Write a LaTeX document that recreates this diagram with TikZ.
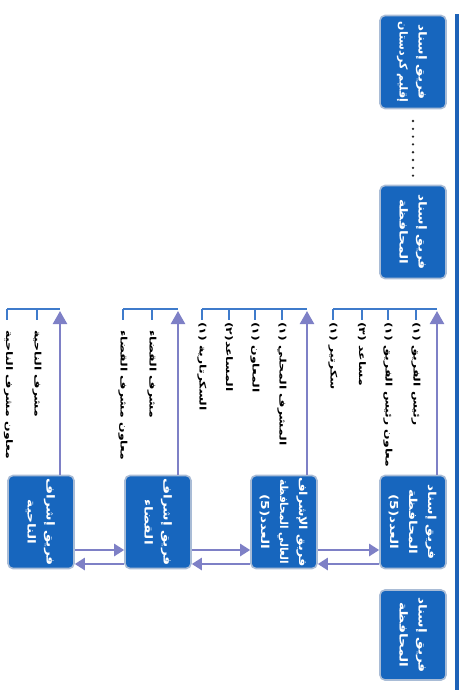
\documentclass[tikz,border=0pt]{standalone}
\usepackage{fontspec}
\usepackage{graphicx}
\newfontfamily\itemfont[Script=Arabic,FakeStretch=1.38]{DejaVu Sans}
\newfontfamily\boxfont[Script=Arabic,FakeStretch=1.25]{DejaVu Sans}
\TeXXeTstate=1
\usetikzlibrary{arrows.meta,calc}
\definecolor{boxblue}{HTML}{1766BE}
\definecolor{boxedge}{HTML}{A9BCD6}
\definecolor{arrowc}{HTML}{7E80C6}
\definecolor{barc}{HTML}{3F7BCB}
\definecolor{railc}{HTML}{1E63B8}
\newcommand\rtlines[1]{\rotatebox{-90}{\begin{tabular}{@{}c@{}}#1\end{tabular}}}
\newcommand\squeeze[2]{\scalebox{#1}[1]{#2}}
\begin{document}
\begin{tikzpicture}[x=1pt,y=-1pt,
  teambox/.style={draw=boxedge, line width=1.6pt, fill=boxblue, rounded corners=5pt,
    minimum width=66pt, minimum height=93pt, inner sep=0pt, text=white,
    font=\boxfont\bfseries\fontsize{11}{19}\selectfont},
  item/.style={font=\itemfont\bfseries\fontsize{9}{10}\selectfont, rotate=-90,
    anchor=west, inner sep=0pt, text=black},
  arr/.style={draw=arrowc, line width=2.4pt, -{Triangle[length=10pt,width=12pt]}},
  uparr/.style={draw=arrowc, line width=2.4pt, -{Triangle[length=13pt,width=14pt]}},
  barline/.style={draw=barc, line width=2pt},
  rail/.style={draw=railc, line width=4pt},
  dotsline/.style={draw=black!85, line width=2.6pt, line cap=round, dash pattern=on 0pt off 7.8pt}
]
\useasboundingbox (0,0) rectangle (461,697);

% rail
\coordinate (railtop) at (457,14);
\coordinate (railbot) at (457,690);
\draw[rail] (railtop) -- (railbot);

% right column boxes
\node[teambox] (A) at (413,62) {\rtlines{\beginR فريق إسناد\endR\\ \squeeze{0.8}{\beginR إقليم كردستان\endR}}};
\node[teambox] (B) at (413,232) {\rtlines{\beginR فريق إسناد\endR\\ \beginR المحافظة\endR}};
\coordinate (dtop) at (413,121);
\coordinate (dbot) at (413,177);
\draw[dotsline] (dtop) -- (dbot);
\node[teambox] (C) at (413,522) {\rtlines{\beginR فريق إسناد\endR\\ \beginR المحافظة\endR\\ \beginR العدد(5)\endR}};
\node[teambox, minimum height=90pt] (D) at (413,635) {\rtlines{\beginR فريق إسناد\endR\\ \beginR المحافظة\endR}};

% bottom row boxes
\node[teambox] (E) at (284,522) {\rtlines{\squeeze{0.92}{\beginR فريق الإشراف\endR}\\ \squeeze{0.76}{\beginR العالي المحافظة\endR}\\ \beginR العدد(5)\endR}};
\node[teambox] (F) at (158,522) {\rtlines{\beginR فريق إشراف\endR\\ \beginR القضاء\endR}};
\node[teambox] (G) at (41,522) {\rtlines{\beginR فريق إشراف\endR\\ \beginR الناحية\endR}};

% horizontal arrows
\coordinate (yR) at (0,550);
\coordinate (yL) at (0,564);
\draw[arr] (G.east |- yR) -- (F.west |- yR);
\draw[arr] (F.west |- yL) -- (G.east |- yL);
\draw[arr] (F.east |- yR) -- (E.west |- yR);
\draw[arr] (E.west |- yL) -- (F.east |- yL);
\draw[arr] (E.east |- yR) -- (C.west |- yR);
\draw[arr] (C.west |- yL) -- (E.east |- yL);

% group C
\coordinate (bC) at (437,309);
\coordinate (bCend) at (333,309);
\draw[uparr] (C.north -| bC) -- ([yshift=-2pt]bC);
\draw[barline] (bCend) -- (bC);
\foreach \x/\n in {416/c1,388/c2,362/c3,333/c4}{
  \coordinate (\n) at (\x,322);
  \draw[barline] (\x,309) -- (\x,320);
}
\node[item] (tc1) at (c1) {\beginR رئيس الفريق (١)\endR};
\node[item] (tc2) at (c2) {\beginR معاون رئيس الفريق (١)\endR};
\node[item] (tc3) at (c3) {\beginR مساعد (٣)\endR};
\node[item] (tc4) at (c4) {\beginR سكرتير (١)\endR};

% group E
\coordinate (bE) at (307,309);
\coordinate (bEend) at (202,309);
\draw[uparr] (E.north -| bE) -- ([yshift=-2pt]bE);
\draw[barline] (bEend) -- (bE);
\foreach \x/\n in {282/e1,255/e2,229/e3,202/e4}{
  \coordinate (\n) at (\x,322);
  \draw[barline] (\x,309) -- (\x,320);
}
\node[item] (te1) at (e1) {\beginR المشرف المحلي (١)\endR};
\node[item] (te2) at (e2) {\beginR المعاون (١)\endR};
\node[item] (te3) at (e3) {\beginR المساعد(٢)\endR};
\node[item] (te4) at (e4) {\beginR السكرتارية (١)\endR};

% group F
\coordinate (bF) at (178,309);
\coordinate (bFend) at (123,309);
\draw[uparr] (F.north -| bF) -- ([yshift=-2pt]bF);
\draw[barline] (bFend) -- (bF);
\foreach \x/\n in {152/f1,123/f2}{
  \coordinate (\n) at (\x,330);
  \draw[barline] (\x,309) -- (\x,320);
}
\node[item] (tf1) at (f1) {\beginR مشرف القضاء\endR};
\node[item] (tf2) at (f2) {\beginR معاون مشرف القضاء\endR};

% group G
\coordinate (bG) at (60,309);
\coordinate (bGend) at (7,309);
\draw[uparr] (G.north -| bG) -- ([yshift=-2pt]bG);
\draw[barline] (bGend) -- (bG);
\foreach \x/\n in {37/g1,7/g2}{
  \coordinate (\n) at (\x,330);
  \draw[barline] (\x,309) -- (\x,320);
}
\node[item] (tg1) at (g1) {\beginR مشرف الناحية\endR};
\node[item] (tg2) at ([xshift=1.5pt]g2) {\beginR معاون مشرف الناحية\endR};
\end{tikzpicture}
\end{document}
